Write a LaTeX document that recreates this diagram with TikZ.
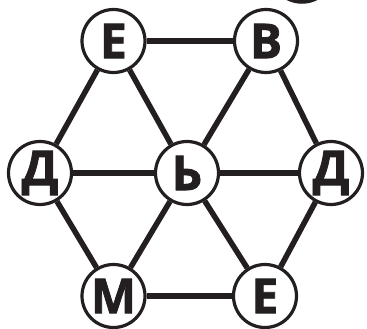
\documentclass[tikz,border=0pt]{standalone}
\usepackage{fontspec}
\setmainfont{Open Sans}
\newfontfamily\heavy{Open Sans}[BoldFeatures={FakeBold=1.6}]
\definecolor{ink}{RGB}{35,31,32}
\begin{document}
\begin{tikzpicture}[x=1pt,y=-1pt,
  letter/.style={circle,draw=ink,line width=3.2pt,fill=white,minimum size=63pt,inner sep=0pt,text=ink,
    font=\fontsize{48}{48}\heavy\bfseries},
  edge/.style={draw=ink,line width=5.5pt}]
\useasboundingbox (0,0) rectangle (367,329);
\clip (0,0) rectangle (367,329);
\draw[ink,line width=3.5pt] (302,-30) circle (32);
\node[letter] (e1) at (113.5,41) {Е};
\node[letter] (v)  at (266,41) {В};
\node[letter] (d1) at (40,173) {Д};
\node[letter] (soft) at (187,173) {Ь};
\node[letter] (d2) at (331,173) {Д};
\node[letter] (m)  at (113.5,296) {М};
\node[letter] (e2) at (265,296) {Е};
\foreach \a/\b in {e1/v,e1/d1,e1/soft,v/soft,v/d2,d1/soft,soft/d2,d1/m,soft/m,soft/e2,d2/e2,m/e2}
  \draw[edge] (\a) -- (\b);
\end{tikzpicture}
\end{document}
